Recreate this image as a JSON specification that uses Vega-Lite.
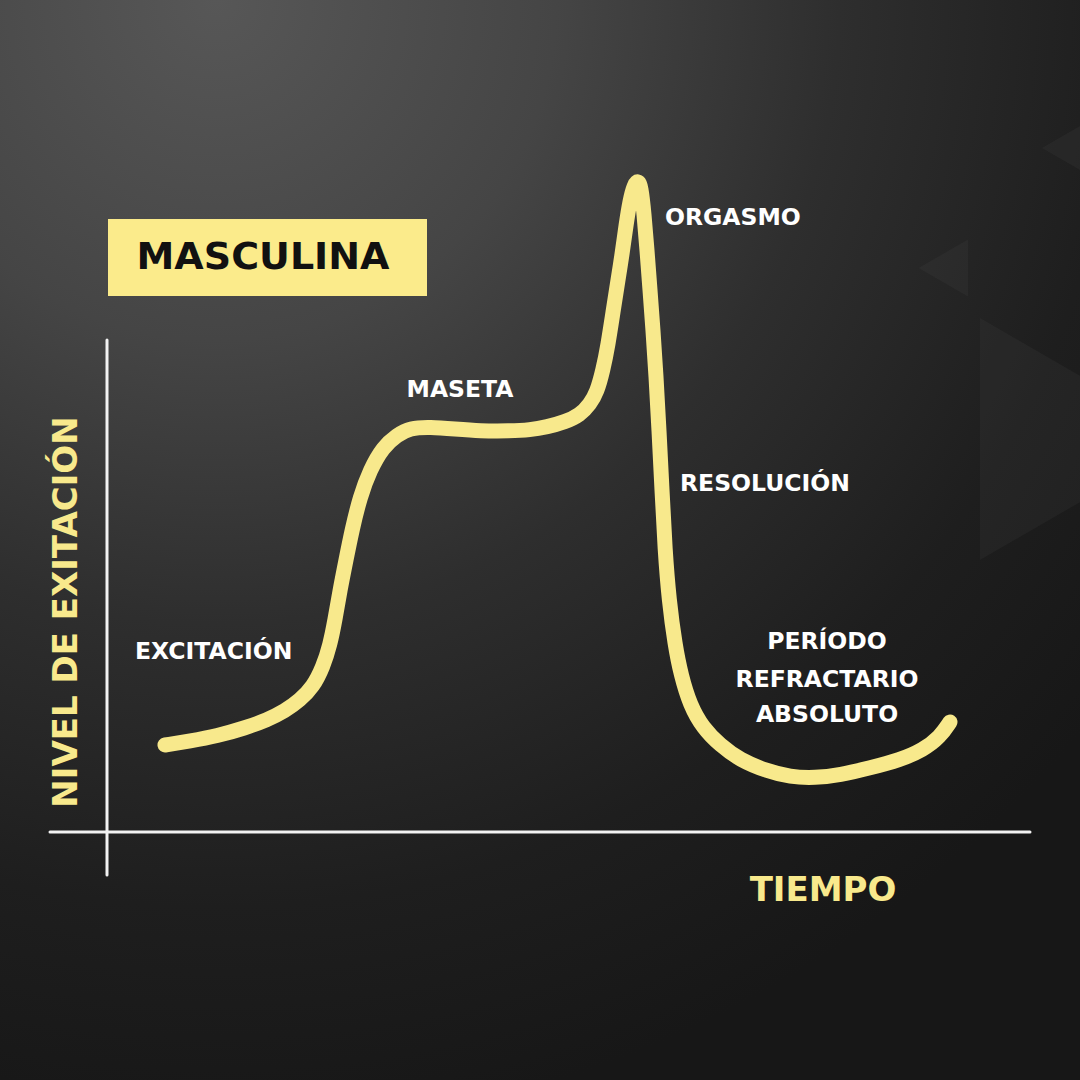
{
  "$schema": "https://vega.github.io/schema/vega-lite/v6.json",
  "width": 1080,
  "height": 1080,
  "padding": 0,
  "autosize": {"type": "fit", "contains": "padding"},
  "background": "#1b1b1b",
  "config": {"view": {"stroke": null}},
  "datasets": {
    "curve": [
      {"t": 5.8, "lvl": 8.7}, {"t": 8.3, "lvl": 9.1}, {"t": 11.0, "lvl": 9.6}, {"t": 13.8, "lvl": 10.4},
      {"t": 16.0, "lvl": 11.2}, {"t": 17.8, "lvl": 12.1}, {"t": 19.3, "lvl": 13.2}, {"t": 20.6, "lvl": 14.5},
      {"t": 21.6, "lvl": 16.5}, {"t": 22.3, "lvl": 18.7}, {"t": 22.8, "lvl": 21.2}, {"t": 23.3, "lvl": 24.2},
      {"t": 23.9, "lvl": 27.2}, {"t": 24.5, "lvl": 30.2}, {"t": 25.3, "lvl": 33.5}, {"t": 26.3, "lvl": 36.2},
      {"t": 27.6, "lvl": 38.5}, {"t": 29.0, "lvl": 39.7}, {"t": 30.3, "lvl": 40.4}, {"t": 32.3, "lvl": 40.5},
      {"t": 34.8, "lvl": 40.3}, {"t": 37.3, "lvl": 40.1}, {"t": 40.3, "lvl": 40.1}, {"t": 42.3, "lvl": 40.2},
      {"t": 44.0, "lvl": 40.5}, {"t": 45.8, "lvl": 41.0}, {"t": 47.3, "lvl": 41.7}, {"t": 48.3, "lvl": 42.8},
      {"t": 49.0, "lvl": 44.0}, {"t": 49.6, "lvl": 46.2}, {"t": 50.1, "lvl": 48.7}, {"t": 50.6, "lvl": 52.0},
      {"t": 51.1, "lvl": 55.2}, {"t": 51.5, "lvl": 57.7}, {"t": 51.9, "lvl": 60.7}, {"t": 52.3, "lvl": 63.2},
      {"t": 52.7, "lvl": 64.7}, {"t": 53.1, "lvl": 65.2}, {"t": 53.4, "lvl": 64.6}, {"t": 53.7, "lvl": 61.9},
      {"t": 54.0, "lvl": 58.2}, {"t": 54.3, "lvl": 54.2}, {"t": 54.6, "lvl": 50.2}, {"t": 54.9, "lvl": 45.7},
      {"t": 55.2, "lvl": 40.2}, {"t": 55.5, "lvl": 34.2}, {"t": 55.8, "lvl": 28.2}, {"t": 56.2, "lvl": 23.2},
      {"t": 56.8, "lvl": 18.7}, {"t": 57.4, "lvl": 15.7}, {"t": 58.3, "lvl": 12.7}, {"t": 59.6, "lvl": 10.4},
      {"t": 61.3, "lvl": 8.7}, {"t": 63.3, "lvl": 7.2}, {"t": 66.0, "lvl": 6.1}, {"t": 68.3, "lvl": 5.5},
      {"t": 70.8, "lvl": 5.4}, {"t": 73.3, "lvl": 5.7}, {"t": 76.3, "lvl": 6.4}, {"t": 79.3, "lvl": 7.2},
      {"t": 81.6, "lvl": 8.2}, {"t": 83.3, "lvl": 9.5}, {"t": 84.3, "lvl": 11.0}
    ],
    "axes": [
      {"t": 0, "lvl": -4.3, "t2": 0, "lvl2": 49.2},
      {"t": -5.7, "lvl": 0, "t2": 92.3, "lvl2": 0}
    ],
    "labelsLeft": [
      {"label": "ORGASMO", "t": 55.8, "lvl": 61.4},
      {"label": "RESOLUCIÓN", "t": 57.3, "lvl": 34.8},
      {"label": "EXCITACIÓN", "t": 2.8, "lvl": 18.0}
    ],
    "labelsCenter": [
      {"label": "MASETA", "t": 35.3, "lvl": 44.2},
      {"label": "PERÍODO", "t": 72.0, "lvl": 19.0},
      {"label": "REFRACTARIO", "t": 72.0, "lvl": 15.2},
      {"label": "ABSOLUTO", "t": 72.0, "lvl": 11.7}
    ]
  },
  "encoding": {
    "x": {"field": "t", "type": "quantitative", "scale": {"domain": [-10.7, 97.3], "nice": false, "zero": false}, "axis": null},
    "y": {"field": "lvl", "type": "quantitative", "scale": {"domain": [-24.8, 83.2], "nice": false, "zero": false}, "axis": null}
  },
  "layer": [
    {
      "data": {"values": [{"t": -10.7, "lvl": -24.8, "t2": 97.3, "lvl2": 83.2}]},
      "mark": {
        "type": "rect",
        "fill": {
          "gradient": "radial",
          "x1": 0.2, "y1": 0.0, "r1": 0,
          "x2": 0.2, "y2": 0.0, "r2": 1.05,
          "stops": [
            {"offset": 0, "color": "#575757"},
            {"offset": 0.3, "color": "#454545"},
            {"offset": 0.55, "color": "#2e2e2e"},
            {"offset": 0.8, "color": "#1e1e1e"},
            {"offset": 1, "color": "#171717"}
          ]
        }
      },
      "encoding": {"x2": {"field": "t2"}, "y2": {"field": "lvl2"}}
    },
    {
      "data": {"values": [{"t": 87.3, "lvl": 39.3}]},
      "mark": {"type": "point", "shape": "M 0 -1 L 1.73 0 L 0 1 Z", "size": 58564, "filled": true, "fill": "#ffffff", "fillOpacity": 0.03, "strokeWidth": 0, "clip": true}
    },
    {
      "data": {"values": [{"t": 86.1, "lvl": 56.4}]},
      "mark": {"type": "point", "shape": "M 0 -1 L -1.73 0 L 0 1 Z", "size": 3249, "filled": true, "fill": "#ffffff", "fillOpacity": 0.03, "strokeWidth": 0, "clip": true}
    },
    {
      "data": {"values": [{"t": 99.3, "lvl": 68.4}]},
      "mark": {"type": "point", "shape": "M 0 -1 L -1.73 0 L 0 1 Z", "size": 4489, "filled": true, "fill": "#ffffff", "fillOpacity": 0.03, "strokeWidth": 0, "clip": true}
    },
    {
      "data": {"name": "axes"},
      "mark": {"type": "rule", "color": "#f2f2f2", "strokeWidth": 3, "strokeCap": "round"},
      "encoding": {"x2": {"field": "t2"}, "y2": {"field": "lvl2"}}
    },
    {
      "data": {"values": [{"t": 0.1, "lvl": 53.6, "t2": 32.0, "lvl2": 61.3}]},
      "mark": {"type": "rect", "color": "#fbeb8b"},
      "encoding": {"x2": {"field": "t2"}, "y2": {"field": "lvl2"}}
    },
    {
      "data": {"values": [{"label": "MASCULINA", "t": 15.6, "lvl": 57.4}]},
      "mark": {"type": "text", "font": "DejaVu Sans", "fontWeight": "bold", "fontSize": 38, "color": "#111111", "align": "center", "baseline": "middle"},
      "encoding": {"text": {"field": "label"}}
    },
    {
      "data": {"name": "curve"},
      "mark": {"type": "line", "color": "#f8e98c", "strokeWidth": 15, "strokeCap": "round", "strokeJoin": "round", "interpolate": "basis"}
    },
    {
      "data": {"name": "labelsLeft"},
      "mark": {"type": "text", "font": "DejaVu Sans", "fontWeight": "bold", "fontSize": 23.5, "color": "#ffffff", "align": "left", "baseline": "middle"},
      "encoding": {"text": {"field": "label"}}
    },
    {
      "data": {"name": "labelsCenter"},
      "mark": {"type": "text", "font": "DejaVu Sans", "fontWeight": "bold", "fontSize": 23.5, "color": "#ffffff", "align": "center", "baseline": "middle"},
      "encoding": {"text": {"field": "label"}}
    },
    {
      "data": {"values": [{"label": "TIEMPO", "t": 71.6, "lvl": -5.9}]},
      "mark": {"type": "text", "font": "DejaVu Sans", "fontWeight": "bold", "fontSize": 34, "color": "#f8e98c", "align": "center", "baseline": "middle"},
      "encoding": {"text": {"field": "label"}}
    },
    {
      "data": {"values": [{"label": "NIVEL DE EXITACIÓN", "t": -4.0, "lvl": 22.0}]},
      "mark": {"type": "text", "font": "DejaVu Sans", "fontWeight": "bold", "fontSize": 34, "color": "#f8e98c", "align": "center", "baseline": "middle", "angle": 270},
      "encoding": {"text": {"field": "label"}}
    }
  ]
}
